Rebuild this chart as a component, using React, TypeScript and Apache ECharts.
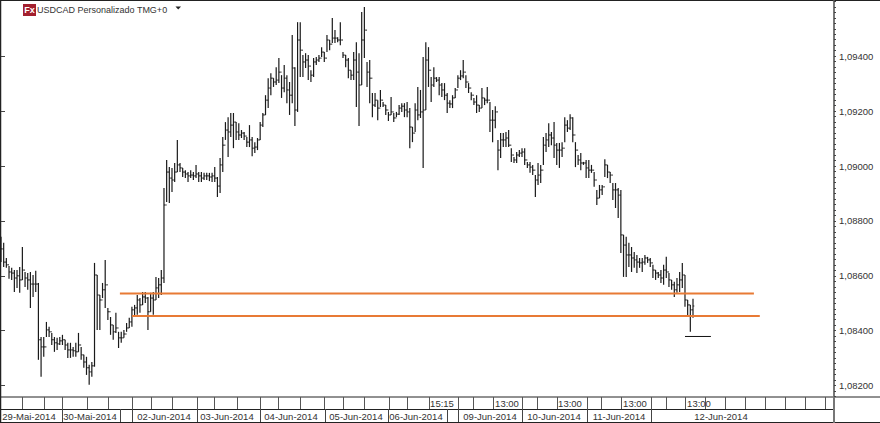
import React, { useEffect, useRef } from "react";
import * as echarts from "echarts";

const highs = [
1.08742,1.08720,1.08665,1.08636,1.08629,1.08621,1.08621,1.08632,1.08705,1.08614,1.08610,1.08614,1.08603,1.08618,1.08574,1.08377,1.08377,1.08432,1.08414,1.08392,
1.08377,1.08374,1.08377,1.08385,1.08367,1.08356,1.08356,1.08341,1.08356,1.08392,1.08341,1.08312,1.08305,1.08276,1.08286,1.08647,1.08603,1.08530,1.08574,1.08658,
1.08483,1.08450,1.08421,1.08465,1.08396,1.08396,1.08403,1.08428,1.08447,1.08487,1.08494,1.08530,1.08519,1.08541,1.08541,1.08523,1.08538,1.08541,1.08596,1.08592,
1.08621,1.08920,1.09022,1.08996,1.08993,1.09011,1.09095,1.09011,1.08993,1.08985,1.08978,1.08985,1.08978,1.09004,1.08978,1.08978,1.08975,1.08975,1.08975,1.08975,
1.08996,1.08960,1.09029,1.09106,1.09160,1.09178,1.09193,1.09193,1.09160,1.09156,1.09131,1.09124,1.09106,1.09149,1.09106,1.09087,1.09102,1.09160,1.09193,1.09258,
1.09320,1.09338,1.09320,1.09360,1.09393,1.09331,1.09368,1.09331,1.09306,1.09477,1.09360,1.09524,1.09524,1.09404,1.09411,1.09404,1.09349,1.09393,1.09397,1.09404,
1.09433,1.09415,1.09477,1.09459,1.09539,1.09495,1.09469,1.09524,1.09415,1.09404,1.09393,1.09349,1.09415,1.09451,1.09411,1.09561,1.09579,1.09379,1.09386,1.09266,
1.09266,1.09240,1.09277,1.09233,1.09222,1.09197,1.09251,1.09193,1.09197,1.09222,1.09229,1.09229,1.09233,1.09211,1.09142,1.09229,1.09288,1.09277,1.09397,1.09451,
1.09433,1.09324,1.09360,1.09324,1.09324,1.09302,1.09302,1.09266,1.09240,1.09258,1.09284,1.09331,1.09349,1.09386,1.09331,1.09302,1.09269,1.09248,1.09258,1.09222,
1.09284,1.09248,1.09288,1.09233,1.09204,1.09218,1.09095,1.09120,1.09120,1.09124,1.09131,1.09065,1.09033,1.09051,1.09058,1.09065,1.09065,1.09015,1.09015,
1.09004,1.08967,1.09011,1.09004,1.09106,1.09120,1.09156,1.09124,1.09160,1.09084,1.09084,1.09087,1.09178,1.09167,1.09189,1.09178,1.09087,1.09040,1.09047,
1.09015,1.09022,1.09022,1.09004,1.08978,1.08913,1.08931,1.08931,1.09025,1.09004,1.08978,1.08938,1.08938,1.08920,1.08913,1.08749,1.08742,1.08720,1.08705,
1.08687,1.08676,1.08665,1.08665,1.08676,1.08669,1.08665,1.08640,1.08621,1.08614,1.08621,1.08640,1.08669,1.08610,1.08585,1.08578,1.08592,1.08614,1.08647,
1.08603,1.08512,1.08494,1.08516];

const lows = [
1.08650,1.08632,1.08629,1.08589,1.08585,1.08541,1.08556,1.08538,1.08585,1.08559,1.08549,1.08483,1.08523,1.08541,1.08294,1.08232,1.08305,1.08377,1.08377,1.08348,
1.08323,1.08330,1.08348,1.08348,1.08330,1.08301,1.08301,1.08305,1.08305,1.08323,1.08294,1.08265,1.08239,1.08203,1.08232,1.08269,1.08403,1.08403,1.08519,1.08483,
1.08439,1.08385,1.08367,1.08392,1.08337,1.08356,1.08374,1.08396,1.08410,1.08414,1.08450,1.08458,1.08465,1.08494,1.08501,1.08403,1.08469,1.08458,1.08512,1.08519,
1.08530,1.08574,1.08869,1.08865,1.08905,1.08942,1.08978,1.08978,1.08960,1.08956,1.08942,1.08956,1.08949,1.08956,1.08942,1.08942,1.08949,1.08949,1.08945,1.08942,
1.08942,1.08887,1.08902,1.08978,1.09095,1.09033,1.09106,1.09065,1.09095,1.09095,1.09102,1.09095,1.09069,1.09069,1.09036,1.09047,1.09058,1.09095,1.09142,1.09186,
1.09211,1.09258,1.09288,1.09295,1.09302,1.09248,1.09269,1.09229,1.09186,1.09229,1.09146,1.09197,1.09324,1.09324,1.09357,1.09313,1.09306,1.09324,1.09368,1.09379,
1.09397,1.09379,1.09415,1.09422,1.09448,1.09448,1.09451,1.09440,1.09393,1.09360,1.09320,1.09313,1.09313,1.09215,1.09146,1.09295,1.09393,1.09288,1.09229,1.09178,
1.09215,1.09167,1.09215,1.09215,1.09186,1.09164,1.09186,1.09160,1.09178,1.09186,1.09197,1.09178,1.09178,1.09065,1.09087,1.09124,1.09167,1.09175,1.08993,1.09204,
1.09288,1.09233,1.09288,1.09306,1.09258,1.09251,1.09240,1.09193,1.09211,1.09211,1.09248,1.09284,1.09313,1.09320,1.09284,1.09266,1.09240,1.09222,1.09193,1.09197,
1.09211,1.09222,1.09229,1.09124,1.09087,1.09138,1.08985,1.09029,1.09069,1.09069,1.09069,1.09015,1.09011,1.09011,1.09033,1.09033,1.09004,1.08993,1.08975,
1.08967,1.08887,1.08931,1.08938,1.09004,1.09051,1.09069,1.09076,1.09029,1.09004,1.08993,1.09033,1.09087,1.09124,1.09131,1.09087,1.08996,1.09004,1.08985,
1.09004,1.08956,1.08956,1.08975,1.08924,1.08858,1.08883,1.08894,1.08960,1.08956,1.08938,1.08876,1.08847,1.08811,1.08683,1.08596,1.08596,1.08632,1.08614,
1.08629,1.08610,1.08629,1.08614,1.08640,1.08647,1.08632,1.08592,1.08585,1.08592,1.08574,1.08567,1.08592,1.08559,1.08549,1.08523,1.08538,1.08541,1.08556,
1.08487,1.08450,1.08396,1.08447];

const closes = [
1.08698,1.08650,1.08640,1.08614,1.08610,1.08592,1.08600,1.08585,1.08621,1.08592,1.08585,1.08570,1.08570,1.08570,1.08367,1.08341,1.08341,1.08403,1.08396,1.08367,
1.08356,1.08352,1.08363,1.08367,1.08348,1.08330,1.08330,1.08327,1.08323,1.08348,1.08312,1.08286,1.08265,1.08250,1.08272,1.08603,1.08530,1.08512,1.08549,1.08567,
1.08469,1.08421,1.08396,1.08410,1.08374,1.08374,1.08388,1.08410,1.08432,1.08476,1.08483,1.08512,1.08494,1.08523,1.08519,1.08469,1.08519,1.08512,1.08556,1.08567,
1.08592,1.08858,1.08978,1.08956,1.08949,1.08978,1.09004,1.08993,1.08978,1.08971,1.08964,1.08967,1.08964,1.08971,1.08964,1.08956,1.08964,1.08964,1.08960,1.08964,
1.08956,1.08927,1.09004,1.09076,1.09131,1.09124,1.09149,1.09160,1.09124,1.09113,1.09120,1.09109,1.09087,1.09095,1.09065,1.09069,1.09095,1.09149,1.09186,1.09240,
1.09284,1.09320,1.09306,1.09313,1.09342,1.09284,1.09320,1.09277,1.09258,1.09357,1.09204,1.09459,1.09422,1.09379,1.09386,1.09364,1.09331,1.09379,1.09386,1.09393,
1.09415,1.09393,1.09459,1.09444,1.09466,1.09466,1.09459,1.09459,1.09404,1.09386,1.09349,1.09331,1.09386,1.09342,1.09295,1.09459,1.09495,1.09342,1.09320,1.09222,
1.09240,1.09211,1.09240,1.09222,1.09204,1.09186,1.09197,1.09175,1.09189,1.09211,1.09218,1.09204,1.09197,1.09142,1.09120,1.09204,1.09186,1.09197,1.09204,1.09386,
1.09349,1.09295,1.09320,1.09313,1.09295,1.09277,1.09258,1.09229,1.09226,1.09248,1.09277,1.09320,1.09328,1.09342,1.09306,1.09284,1.09258,1.09233,1.09222,1.09211,
1.09248,1.09240,1.09240,1.09167,1.09167,1.09197,1.09058,1.09095,1.09095,1.09102,1.09076,1.09040,1.09022,1.09040,1.09047,1.09051,1.09022,1.09004,1.08996,
1.08985,1.08949,1.08967,1.08985,1.09076,1.09095,1.09113,1.09102,1.09076,1.09058,1.09058,1.09065,1.09149,1.09138,1.09175,1.09113,1.09058,1.09022,1.09011,
1.09011,1.08993,1.08985,1.08985,1.08949,1.08883,1.08913,1.08924,1.09004,1.08978,1.08967,1.08913,1.08913,1.08894,1.08749,1.08712,1.08676,1.08676,1.08665,
1.08658,1.08650,1.08647,1.08650,1.08665,1.08658,1.08647,1.08621,1.08610,1.08603,1.08592,1.08621,1.08614,1.08585,1.08567,1.08549,1.08567,1.08585,1.08603,
1.08512,1.08494,1.08476,1.08490];

const priceTicks = [1.082, 1.084, 1.086, 1.088, 1.09, 1.092, 1.094];
const upperLevel = [[44.5, 1.08536], [281.8, 1.08536]];
const lowerLevel = [[49, 1.08454], [284, 1.08454]];
const stopLevel = [[256, 1.08379], [265.7, 1.08379]];

const title = "USDCAD Personalizado TMG+0";
const dayLabels = ["29-Mai-2014","30-Mai-2014","02-Jun-2014","03-Jun-2014","04-Jun-2014","05-Jun-2014","06-Jun-2014","09-Jun-2014","10-Jun-2014","11-Jun-2014","12-Jun-2014"];
const hourLabels = ["15:15","13:00","13:00","13:00","13:00"];

// layout of the time strip
const dayLabelX = [29, 90, 164, 227, 291, 356, 416, 490, 554, 619, 721];
const hourLabelX = [442, 507, 570, 635, 699];
const upperDiv = [22,44,62,87,108,132,151,172,197,214,237,260,278,300,324,343,364,389,407,429,458,473,493,522,537,557,587,601,621,651,666,685,705,725,745,765,785,805,825];
const lowerDiv = [62,120,132,197,260,325,388,447,458,522,587,651];

const FONT = "Liberation Sans";
const TEXT = "#333";

export default function App() {
  const ref = useRef<HTMLDivElement>(null);
  useEffect(() => {
    document.body.style.margin = "0";
    const chart = echarts.init(ref.current!, undefined, { renderer: "svg" });
    const n = highs.length;
    const step = 692 / (n - 1);
    const xMin = -1 / step;
    const xMax = xMin + 834 / step;
    const bars = highs.map((h, i) => [i, i ? closes[i - 1] : closes[0], closes[i], lows[i], h]);

    const ln = (x1: number, y1: number, x2: number, y2: number, stroke: string, lineWidth = 1) => ({
      type: "line", silent: true, shape: { x1, y1, x2, y2 }, style: { stroke, lineWidth },
    });
    const txt = (x: number, y: number, text: string, align = "center", size = 9.5) => ({
      type: "text", x, y, silent: true,
      style: { text, fill: TEXT, font: `${size}px "${FONT}"`, align, verticalAlign: "middle" },
    });

    const levelSeries = (data: number[][], color: string, width: number) => ({
      type: "line", data, symbol: "none", silent: true, z: 5,
      lineStyle: { color, width }, xAxisIndex: 0, yAxisIndex: 0,
    });

    chart.setOption({
      animation: false,
      backgroundColor: "#fff",
      textStyle: { fontFamily: FONT },
      grid: { left: 0, top: 1.3, width: 834, height: 395.3, containLabel: false },
      xAxis: { type: "value", min: xMin, max: xMax, show: false },
      yAxis: [
        {
          type: "value", position: "right", min: 1.0816, max: 1.096, interval: 0.0002, scale: true,
          splitLine: { show: false },
          axisLine: { show: true, onZero: false, lineStyle: { color: "#777", width: 2 } },
          axisTick: { show: true, length: 2, lineStyle: { color: "#444" } },
          axisLabel: {
            show: true, customValues: priceTicks, margin: 5, color: TEXT, fontSize: 9.5, fontFamily: FONT,
            formatter: (v: number) => v.toFixed(5).replace(".", ","),
          },
        },
        {
          type: "value", position: "right", min: 1.0816, max: 1.096, scale: true,
          splitLine: { show: false }, axisLine: { show: false }, axisLabel: { show: false },
          axisTick: { show: true, length: 4, customValues: priceTicks, lineStyle: { color: "#444" } },
        },
      ],
      series: [
        {
          type: "custom", data: bars, silent: true, z: 2, xAxisIndex: 0, yAxisIndex: 0,
          encode: { x: 0, y: [1, 2, 3, 4] },
          renderItem: (_p: any, api: any) => {
            const i = api.value(0);
            const [x, yO] = api.coord([i, api.value(1)]);
            const [, yC] = api.coord([i, api.value(2)]);
            const [, yL] = api.coord([i, api.value(3)]);
            const [, yH] = api.coord([i, api.value(4)]);
            const style = { stroke: "#1a1a1a", lineWidth: 1.2, fill: "none" };
            const tick = { stroke: "#1a1a1a", lineWidth: 1, fill: "none" };
            return {
              type: "group",
              children: [
                { type: "line", shape: { x1: x, y1: yH, x2: x, y2: yL }, style },
                { type: "line", shape: { x1: x - 1.3, y1: yO, x2: x, y2: yO }, style: tick },
                { type: "line", shape: { x1: x, y1: yC, x2: x + 1.3, y2: yC }, style: tick },
              ],
            };
          },
        },
        levelSeries(upperLevel, "#e87a35", 2),
        levelSeries(lowerLevel, "#e87a35", 2),
        levelSeries(stopLevel, "#111", 1),
      ],
      graphic: [
        ln(0, 0.5, 880, 0.5, "#222"),
        ln(0.5, 0, 0.5, 423, "#222", 1.5),
        ln(0, 397, 880, 397, "#222"),
        ln(0, 409.5, 834, 409.5, "#222"),
        ln(0, 422.5, 880, 422.5, "#222"),
        ln(834, 397, 834, 423, "#777", 2),
        ...upperDiv.map((x) => ln(x + 0.5, 397, x + 0.5, 409, "#555")),
        ...lowerDiv.map((x) => ln(x + 0.5, 409, x + 0.5, 422, "#444")),
        ...dayLabels.map((t, i) => txt(dayLabelX[i], 416.5, t)),
        ...hourLabels.map((t, i) => txt(hourLabelX[i], 403.5, t)),
        {
          type: "rect", silent: true, shape: { x: 23, y: 4, width: 13, height: 12 },
          style: { fill: "#a3202f" },
        },
        { type: "text", x: 29.5, y: 10, silent: true, style: { text: "Fx", fill: "#fff", font: `bold 9px "${FONT}"`, align: "center", verticalAlign: "middle" } },
        txt(37, 9.5, title, "left", 9),
        { type: "polygon", silent: true, shape: { points: [[175.5, 6.5], [181, 6.5], [178.2, 9.5]] }, style: { fill: "#222" } },
      ],
    });
    return () => chart.dispose();
  }, []);
  return <div ref={ref} style={{ width: 880, height: 423 }} />;
}
